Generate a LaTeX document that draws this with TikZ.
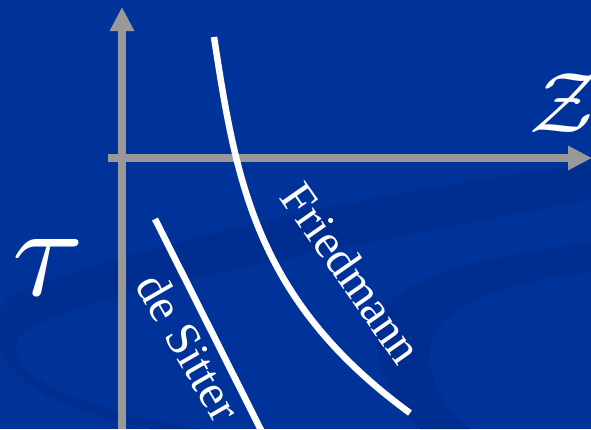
\documentclass[tikz,border=0pt]{standalone}
\usepackage{fontspec}
\setmainfont{Liberation Serif}
\usetikzlibrary{arrows.meta}
\definecolor{slideblue}{RGB}{0,51,153}
\definecolor{swooshblue}{RGB}{0,46,144}
\definecolor{axisgray}{RGB}{153,153,153}
\begin{document}
\begin{tikzpicture}[x=1pt,y=-1pt,
  axis/.style={axisgray,line width=7.5pt,-{Triangle[length=24pt,width=23pt]}},
  curve/.style={white,line width=6.5pt},
  lbl/.style={white,font=\fontsize{48}{48}\selectfont,inner sep=0pt}]
  \useasboundingbox (0,0) rectangle (591,429);
  \clip (0,0) rectangle (591,429);
  \fill[slideblue] (0,0) rectangle (591,429);
  \fill[swooshblue] (591,165) .. controls (400,185) and (100,250) .. (5,300)
    .. controls (-20,340) and (0,400) .. (150,429) -- (200,429)
    .. controls (60,405) and (0,370) .. (20,335)
    .. controls (60,300) and (300,255) .. (591,200) -- cycle;
  \fill[swooshblue] (591,243) .. controls (480,255) and (390,280) .. (378,320)
    .. controls (370,360) and (390,400) .. (420,429) -- (470,429)
    .. controls (430,400) and (420,350) .. (440,325)
    .. controls (470,295) and (530,278) .. (591,273) -- cycle;
  \coordinate (ybot) at (122,429);
  \coordinate (ytop) at (122,7);
  \coordinate (xleft) at (108,158);
  \coordinate (xright) at (592,158);
  \draw[axis] (ybot) -- (ytop);
  \draw[axis] (xleft) -- (xright);
  \coordinate (ftop) at (214,37);
  \coordinate (fbot) at (410,413);
  \draw[curve] (ftop) .. controls (236,180) and (255,300) .. (fbot);
  \coordinate (dstop) at (155,219);
  \coordinate (dsbot) at (262,432);
  \draw[curve] (dstop) -- (dsbot);
  \node[lbl,rotate=-55] (fried) at (352,273) {Friedmann};
  \node[lbl,rotate=-60] (desit) at (189,347) {de Sitter};
  \node[white,scale=13,inner sep=0pt] (tau) at (48,268) {$\tau$};
  \node[white,scale=8.6,inner sep=0pt] (zed) at (564,103) {$\mathcal{Z}$};
\end{tikzpicture}
\end{document}
